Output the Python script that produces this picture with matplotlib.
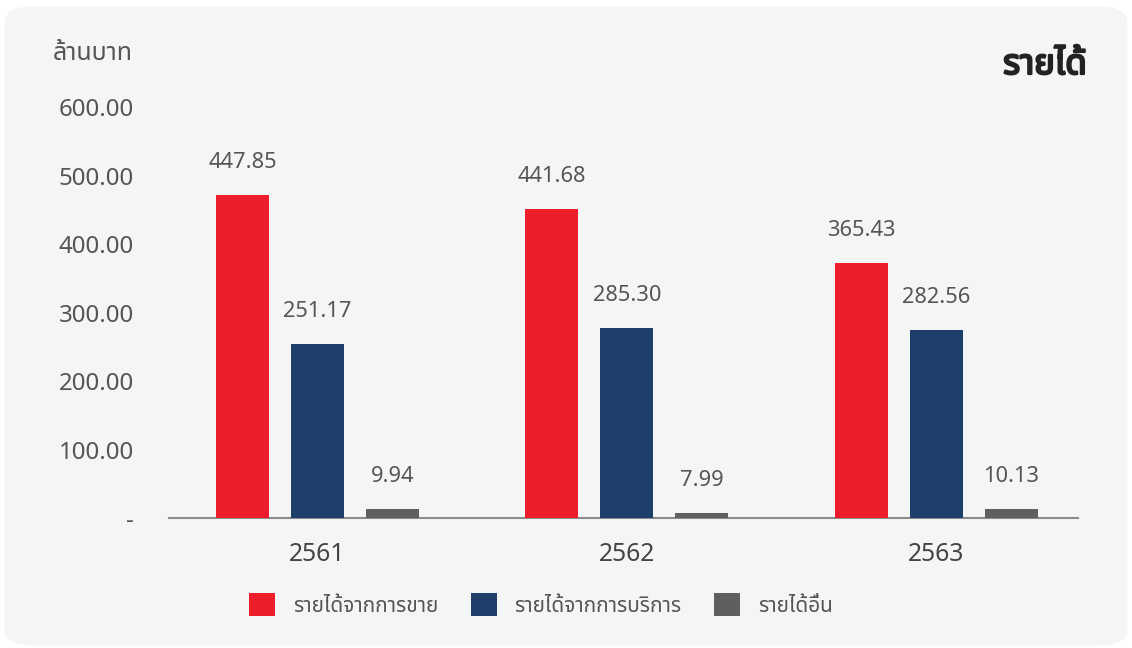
import matplotlib
matplotlib.use('Agg')
import matplotlib.pyplot as plt
import matplotlib.patheffects as pe
import numpy as np
from matplotlib import font_manager
from matplotlib.patches import FancyBboxPatch

years = ['2561', '2562', '2563']
series = ['รายได้จากการขาย', 'รายได้จากการบริการ', 'รายได้อื่น']
# printed values above the bars
labels_sales = [447.85, 441.68, 365.43]
labels_service = [251.17, 285.30, 282.56]
labels_other = [9.94, 7.99, 10.13]
# bar heights as drawn in the picture
bars_sales = [470.9, 450.5, 371.9]
bars_service = [254.0, 277.3, 274.4]
bars_other = [13.8, 8.0, 13.8]
yticks = [0, 100, 200, 300, 400, 500, 600]
ytick_labels = ['-', '100.00', '200.00', '300.00', '400.00', '500.00', '600.00']
colors = ['#ee1d2b', '#1f3f6b', '#5f5f5f']

names = set(f.name for f in font_manager.fontManager.ttflist)
thai_font = 'Noto Sans Thai' if 'Noto Sans Thai' in names else 'IBM Plex Sans Thai'
plt.rcParams['font.family'] = ['Noto Sans', thai_font, 'DejaVu Sans']

fig = plt.figure(figsize=(11.32, 6.48), dpi=100)
fig.patch.set_facecolor('white')
card = FancyBboxPatch((0.004, 0.004), 0.992, 0.986,
                      boxstyle='round,pad=0,rounding_size=0.025',
                      transform=fig.transFigure, facecolor='#f4f5f5',
                      edgecolor='none', zorder=-10)
fig.add_artist(card)

ax = fig.add_axes([0.149, 0.2, 0.803, 0.635])
ax.set_facecolor('none')

x = np.arange(len(years))
w = 0.171
step = 0.242
bar_sets = [bars_sales, bars_service, bars_other]
label_sets = [labels_sales, labels_service, labels_other]
for i in range(3):
    pos = x + (i - 1) * step
    ax.bar(pos, bar_sets[i], width=w, color=colors[i], label=series[i], zorder=3)
    for px, h, v in zip(pos, bar_sets[i], label_sets[i]):
        ax.annotate('%.2f' % v, (px, h), xytext=(0, 23.5), textcoords='offset points',
                    ha='center', va='center', fontsize=15.7, color='#555555')

ax.set_xlim(-0.48, 2.457)
ax.set_ylim(0, 600)
ax.set_yticks(yticks)
ax.set_yticklabels(ytick_labels)
ax.set_xticks(x)
ax.set_xticklabels(years)
ax.tick_params(axis='y', length=0, pad=25, labelsize=17.3, labelcolor='#555555')
ax.tick_params(axis='x', length=0, pad=17, labelsize=17.8, labelcolor='#444444')
for s in ['top', 'right', 'left']:
    ax.spines[s].set_visible(False)
ax.spines['bottom'].set_color('#8c8c8c')
ax.spines['bottom'].set_linewidth(1.5)

fig.text(133 / 1132, 1 - 53 / 648, 'ล้านบาท', ha='right', va='center',
         fontsize=18, color='#555555', family=[thai_font, 'DejaVu Sans'])
# regular face + stroke for the bold title (bold face misplaces the tone mark)
fig.text(1087 / 1132, 1 - 65 / 648, 'รายได้', ha='right', va='center',
         fontsize=25, color='#222222', family=[thai_font, 'DejaVu Sans'],
         path_effects=[pe.withStroke(linewidth=1.6, foreground='#222222')])

fig.legend(loc='center', bbox_to_anchor=(541 / 1132, 1 - 605 / 648), ncol=3,
           frameon=False, fontsize=15, handlelength=1.25, handleheight=1.25,
           handletextpad=0.85, columnspacing=1.55, labelcolor='#555555')

fig.savefig('out.png', dpi=100)
